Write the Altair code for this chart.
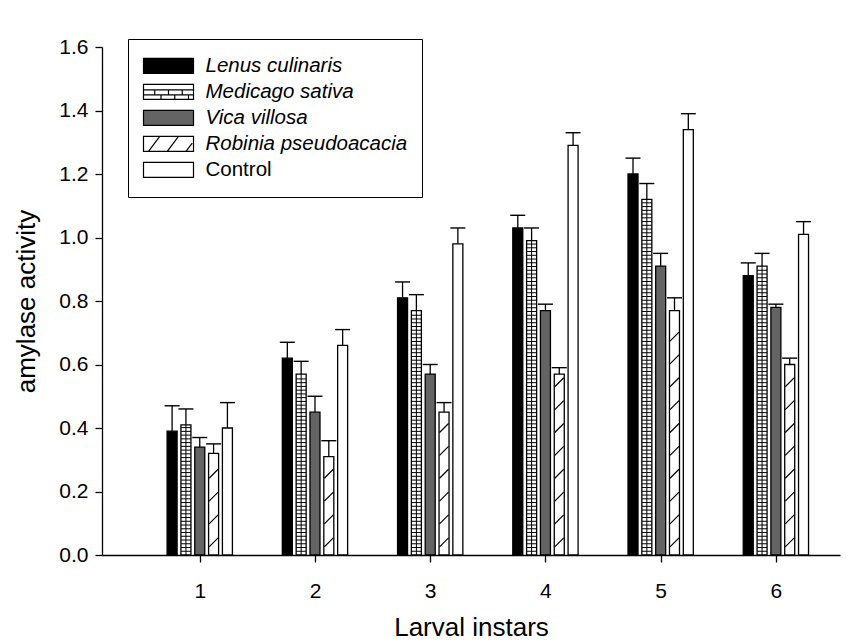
import altair as alt
import pandas as pd

instars = [1, 2, 3, 4, 5, 6]
series = ["Lenus culinaris", "Medicago sativa", "Vica villosa", "Robinia pseudoacacia", "Control"]

lenus = [0.39, 0.62, 0.81, 1.03, 1.20, 0.88]
lenus_top = [0.47, 0.67, 0.86, 1.07, 1.25, 0.92]
medicago = [0.41, 0.57, 0.77, 0.99, 1.12, 0.91]
medicago_top = [0.46, 0.61, 0.82, 1.03, 1.17, 0.95]
vica = [0.34, 0.45, 0.57, 0.77, 0.91, 0.78]
vica_top = [0.37, 0.50, 0.60, 0.79, 0.95, 0.79]
robinia = [0.32, 0.31, 0.45, 0.57, 0.77, 0.60]
robinia_top = [0.35, 0.36, 0.48, 0.59, 0.81, 0.62]
control = [0.40, 0.66, 0.98, 1.29, 1.34, 1.01]
control_top = [0.48, 0.71, 1.03, 1.33, 1.39, 1.05]

y_ticks = [0.0, 0.2, 0.4, 0.6, 0.8, 1.0, 1.2, 1.4, 1.6]

fills = ["#000000", "#ffffff", "#646464", "#ffffff", "#ffffff"]
legend_paths = [
    "M-1,-0.3H1V0.3H-1Z",
    "M-1,-0.3H1V0.3H-1Z M-1,-0.08H1 M-1,0.12H1 M-0.55,-0.08V0.12 M0,-0.08V0.12 M0.55,-0.08V0.12 M-0.3,0.12V0.3 M0.25,0.12V0.3 M0.8,0.12V0.3",
    "M-1,-0.3H1V0.3H-1Z",
    "M-1,-0.3H1V0.3H-1Z M-0.8,0.3L-0.35,-0.3 M-0.05,0.3L0.4,-0.3 M0.7,0.3L0.95,-0.03",
    "M-1,-0.3H1V0.3H-1Z",
]

vals = [lenus, medicago, vica, robinia, control]
tops = [lenus_top, medicago_top, vica_top, robinia_top, control_top]

bar_step = 0.12
rows = []
for si, name in enumerate(series):
    for gi, inst in enumerate(instars):
        rows.append(dict(instar=inst, series=name, idx=si, fillcolor=fills[si],
                         value=vals[si][gi], top=tops[si][gi], base=0.0,
                         pos=inst + (si - 2) * bar_step))
df = pd.DataFrame(rows)

# decorative fill patterns derived from the bar values
rung_step = 0.0118
rungs = []
for _, r in df[df.series == "Medicago sativa"].iterrows():
    lv = rung_step
    while lv < r.value - 0.004:
        rungs.append(dict(pos=r.pos, level=lv))
        lv += rung_step
rungs = pd.DataFrame(rungs)

hatch_step = 0.072
hatch = []
for _, r in df[df.series == "Robinia pseudoacacia"].iterrows():
    lv = 0.04
    while lv + 0.014 <= r.value:
        hatch.append(dict(pos=r.pos, level=lv))
        lv += hatch_step
hatch = pd.DataFrame(hatch)

xscale = alt.Scale(domain=[0.195, 6.513], nice=False, zero=False)
yscale = alt.Scale(domain=[0, 1.6], nice=False)
fill_scale = alt.Scale(domain=series, range=fills)
shape_scale = alt.Scale(domain=series, range=legend_paths)

X = alt.X("pos:Q", scale=xscale,
          axis=alt.Axis(values=instars, format="d", title="Larval instars",
                        labelPadding=18, titlePadding=13))
Y = alt.Y("value:Q", scale=yscale, stack=None,
          axis=alt.Axis(values=y_ticks, format=".1f", title="amylase activity",
                        labelPadding=7, titlePadding=19))

bars = alt.Chart(df).mark_bar(size=10, orient="vertical", stroke="black",
                              strokeWidth=1.3).encode(
    x=X, y=Y, y2="base:Q",
    fill=alt.Fill("fillcolor:N", scale=None),
)

rung_layer = alt.Chart(rungs).mark_tick(orient="horizontal", size=10,
                                        thickness=1, color="black",
                                        opacity=1).encode(
    x=alt.X("pos:Q", scale=xscale), y=alt.Y("level:Q", scale=yscale))

mid_line = alt.Chart(df).transform_filter(
    alt.datum.series == "Medicago sativa").mark_rule(
    color="black", strokeWidth=1).encode(
    x="pos:Q", y="base:Q", y2="value:Q")

hatch_layer = alt.Chart(hatch).mark_point(shape="M-1,1L1,-1", size=81,
                                          filled=False, stroke="black",
                                          strokeWidth=1.2, opacity=1).encode(
    x=alt.X("pos:Q", scale=xscale), y=alt.Y("level:Q", scale=yscale))

err_rule = alt.Chart(df).mark_rule(color="black", strokeWidth=1.3).encode(
    x="pos:Q", y="value:Q", y2="top:Q")

err_cap = alt.Chart(df).mark_tick(orient="horizontal", size=15, thickness=1.4,
                                  color="black", opacity=1).encode(
    x="pos:Q", y="top:Q")

legend = alt.Legend(
    title=None, orient="none", legendX=26, legendY=-8,
    strokeColor="black", fillColor="white", padding=14,
    clipHeight=25.7, rowPadding=0, symbolOffset=0.5, labelOffset=11,
    symbolSize=2500, symbolStrokeColor="black", symbolStrokeWidth=1.2,
    symbolOpacity=1, labelFont="Liberation Sans", labelFontSize=20.5,
    labelColor="black", labelLimit=0,
    labelFontStyle=alt.ExprRef(expr="datum.label == 'Control' ? 'normal' : 'italic'"),
)

legend_layer = alt.Chart(df).transform_filter("false").mark_point(
    filled=True, opacity=1, stroke="black", strokeWidth=1.2).encode(
    x="pos:Q", y="value:Q",
    fill=alt.Fill("series:N", scale=fill_scale, legend=legend),
    shape=alt.Shape("series:N", scale=shape_scale, legend=legend),
)

chart = alt.layer(bars, rung_layer, mid_line, hatch_layer, err_rule, err_cap,
                  legend_layer).properties(
    width=738, height=508,
    padding={"left": 94, "top": 39, "right": 10, "bottom": 88},
    autosize=alt.AutoSizeParams(type="none"),
).configure_view(stroke=None).configure_axis(
    grid=False, domainColor="black", tickColor="black", labelColor="black",
    titleColor="black", labelFont="Liberation Sans", titleFont="Liberation Sans",
    titleFontWeight="normal", labelFontSize=21, titleFontSize=26, tickSize=7,
    domainWidth=1.3, tickWidth=1.3,
)

chart.save("out.html", embed_options={"renderer": "svg", "actions": False})
